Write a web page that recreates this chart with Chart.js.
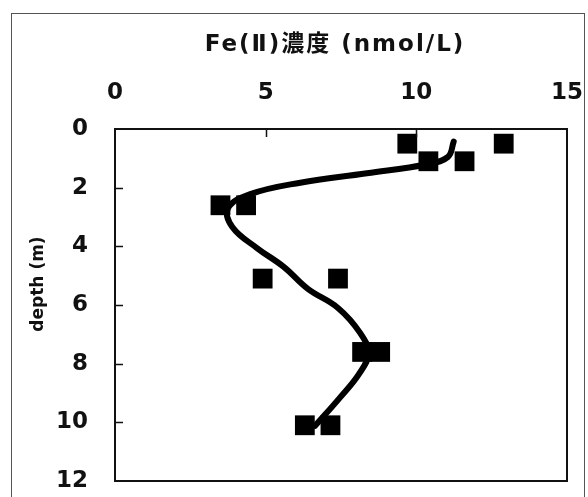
<!DOCTYPE html>
<html>
<head>
<meta charset="utf-8">
<script src="https://cdn.jsdelivr.net/npm/chart.js@4"></script>
<style>
  html, body { margin: 0; padding: 0; background: #fff; }
  #wrap { position: relative; width: 588px; height: 497px; overflow: hidden; }
  #frame { position: absolute; left: 11px; top: 13px; width: 574px; height: 520px; border: 1px solid #555; box-sizing: border-box; }
  #chart { position: absolute; left: 0; top: 0; }
</style>
</head>
<body>
<div id="wrap">
  <div id="frame"></div>
  <canvas id="chart" width="588" height="497"></canvas>
</div>
<script>
// measured Fe(II) concentration (nmol/L) vs depth (m)
const sampleConc  = [9.7, 12.9, 10.4, 11.6, 3.5, 4.35, 4.9, 7.4, 8.2, 8.8, 6.3, 7.15];
const sampleDepth = [0.5, 0.5, 1.1, 1.1, 2.6, 2.6, 5.1, 5.1, 7.6, 7.6, 10.1, 10.1];

// hand-drawn fit curve
const curveConc  = [11.24, 11.05, 10.36, 8.36, 6.15, 4.49, 3.75, 3.9, 4.7, 5.6, 6.4, 7.4, 8.14, 8.41, 8.1, 7.48, 6.64];
const curveDepth = [0.43, 0.95, 1.2, 1.51, 1.83, 2.22, 2.7, 3.35, 4.05, 4.7, 5.45, 6.1, 6.96, 7.65, 8.35, 9.14, 10.12];

const xTicks = [0, 5, 10, 15];
const yTicks = [0, 2, 4, 6, 8, 10, 12];

const xTitle = 'Fe(Ⅱ)濃度 (nmol/L)';
const yTitle = 'depth (m)';

const FONT = '"DejaVu Sans", "Noto Sans CJK JP", sans-serif';

// frame around plot + inward tick marks + axis titles
const decor = {
  id: 'decor',
  afterDatasetsDraw(chart) {
    const ctx = chart.ctx;
    const a = chart.chartArea;
    const sx = chart.scales.x, sy = chart.scales.y;
    ctx.save();
    ctx.strokeStyle = '#111';
    ctx.lineWidth = 2;
    ctx.strokeRect(a.left, a.top, a.right - a.left, a.bottom - a.top);
    ctx.lineWidth = 1.5;
    ctx.beginPath();
    xTicks.slice(1, -1).forEach(v => {
      const px = Math.round(sx.getPixelForValue(v)) + 0.5;
      ctx.moveTo(px, a.top);
      ctx.lineTo(px, a.top + 8);
    });
    yTicks.slice(1, -1).forEach(v => {
      const py = Math.round(sy.getPixelForValue(v)) + 0.5;
      ctx.moveTo(a.left, py);
      ctx.lineTo(a.left + 8, py);
    });
    ctx.stroke();

    ctx.fillStyle = '#111';
    ctx.textAlign = 'center';
    ctx.textBaseline = 'middle';
    ctx.font = 'bold 23px ' + FONT;
    if ('letterSpacing' in ctx) ctx.letterSpacing = '2px';
    ctx.fillText(xTitle, 335, 45);
    if ('letterSpacing' in ctx) ctx.letterSpacing = '0px';

    ctx.translate(39, 284);
    ctx.rotate(-Math.PI / 2);
    ctx.font = 'bold 17px ' + FONT;
    ctx.fillText(yTitle, 0, 0);
    ctx.restore();
  }
};

new Chart(document.getElementById('chart'), {
  type: 'scatter',
  data: {
    datasets: [{
      data: curveConc.map((c, i) => ({ x: c, y: curveDepth[i] })),
      showLine: true,
      borderColor: '#000',
      borderWidth: 6,
      borderCapStyle: 'round',
      borderJoinStyle: 'round',
      tension: 0.4,
      pointRadius: 0,
      order: 2
    }, {
      data: sampleConc.map((c, i) => ({ x: c, y: sampleDepth[i] })),
      pointStyle: 'rect',
      pointRadius: 14,
      pointBorderWidth: 0,
      backgroundColor: '#000',
      borderColor: '#000',
      order: 1
    }]
  },
  options: {
    responsive: false,
    animation: false,
    layout: { padding: { left: 0, top: 0, right: 21, bottom: 16 } },
    plugins: {
      legend: { display: false },
      tooltip: { enabled: false }
    },
    scales: {
      x: {
        position: 'top',
        min: 0, max: 15,
        afterBuildTicks: s => { s.ticks = xTicks.map(v => ({ value: v })); },
        afterFit: s => { s.height = 129; s.paddingLeft = 0; s.paddingRight = 0; },
        grid: { display: false, drawTicks: false },
        border: { display: false },
        ticks: { color: '#111', padding: 22, font: { family: FONT, size: 23, weight: 'bold' } }
      },
      y: {
        reverse: true,
        min: 0, max: 12,
        afterBuildTicks: s => { s.ticks = yTicks.map(v => ({ value: v })); },
        afterFit: s => { s.width = 115; s.paddingTop = 0; s.paddingBottom = 0; },
        grid: { display: false, drawTicks: false },
        border: { display: false },
        ticks: { color: '#111', padding: 27, font: { family: FONT, size: 23, weight: 'bold' } }
      }
    }
  },
  plugins: [decor]
});
</script>
</body>
</html>
